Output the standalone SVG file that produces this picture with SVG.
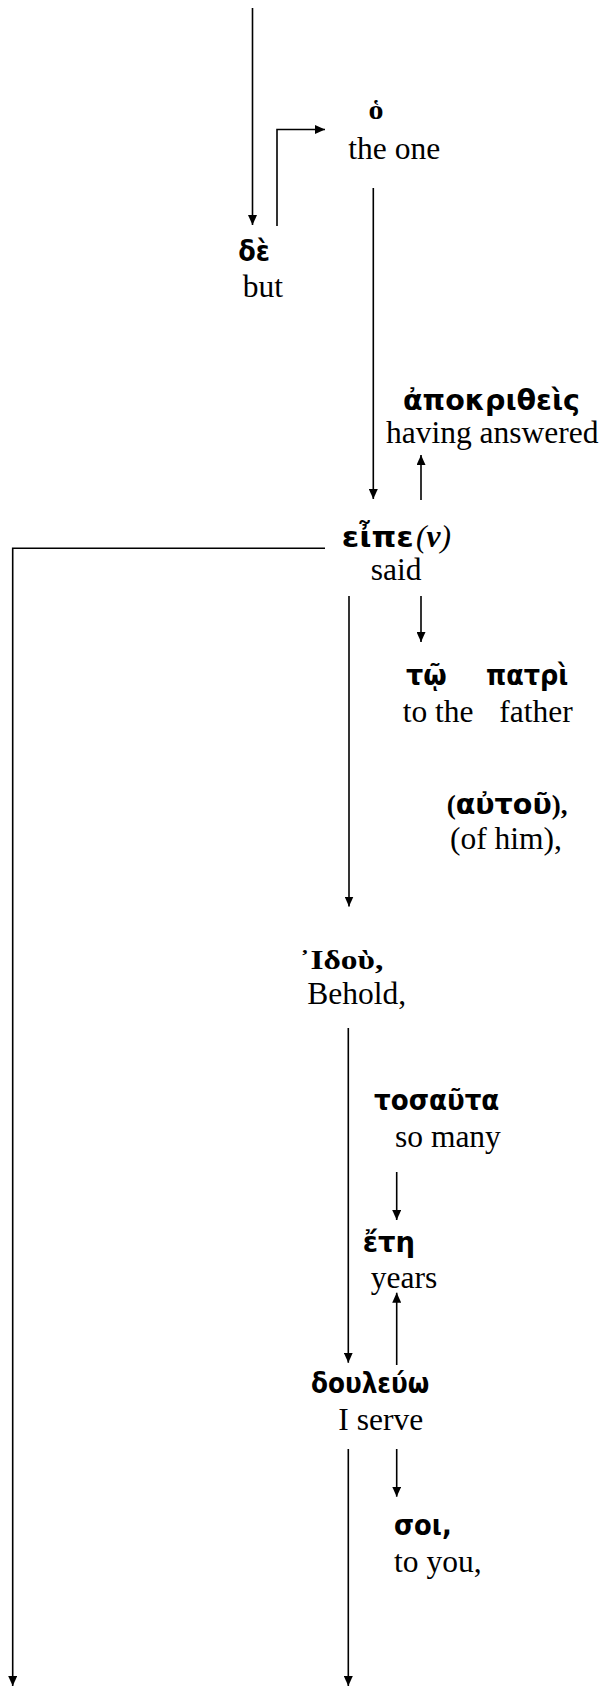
<svg xmlns="http://www.w3.org/2000/svg" width="615" height="1686" viewBox="0 0 615 1686">
<style>
.gk{font-family:"DejaVu Sans","Noto Sans",sans-serif;font-stretch:condensed;font-weight:bold;font-size:28.5px;fill:#000}
.gs{font-family:"Liberation Serif","DejaVu Serif",serif;font-weight:bold;font-size:28px;fill:#000}
.en{font-family:"Liberation Serif","Times New Roman",serif;font-size:31.5px;fill:#000}
.pn{font-family:"Liberation Serif","Times New Roman",serif;font-weight:bold}
.c{fill:none;stroke:#000;stroke-width:1.6}
.a{marker-end:url(#ah)}
</style>
<defs>
<marker id="ah" viewBox="0 0 10 9" refX="10" refY="4.5" markerWidth="10" markerHeight="9" markerUnits="userSpaceOnUse" orient="auto">
<path d="M0,0 L10,4.5 L0,9 z" fill="#000"/>
</marker>
</defs>
<rect width="615" height="1686" fill="#fff"/>
<g id="connectors">
<line class="c a" x1="252.5" y1="8" x2="252.5" y2="225"/>
<polyline class="c a" points="277,226 277,129.5 325,129.5"/>
<line class="c a" x1="373.3" y1="188" x2="373.3" y2="499"/>
<line class="c a" x1="421" y1="500" x2="421" y2="455"/>
<polyline class="c a" points="325,548.3 12.7,548.3 12.7,1686"/>
<line class="c a" x1="349" y1="596" x2="349" y2="906.5"/>
<line class="c a" x1="421" y1="596" x2="421" y2="642"/>
<line class="c a" x1="348.3" y1="1028" x2="348.3" y2="1362.7"/>
<line class="c a" x1="396.7" y1="1172" x2="396.7" y2="1220"/>
<line class="c a" x1="396.7" y1="1365" x2="396.7" y2="1292.7"/>
<line class="c a" x1="348.3" y1="1449" x2="348.3" y2="1686"/>
<line class="c a" x1="396.7" y1="1449" x2="396.7" y2="1496.7"/>
</g>
<g id="node-ho">
<text class="gs" x="368.5" y="119" font-size="31" textLength="15" lengthAdjust="spacingAndGlyphs">ὁ</text>
<text class="en" x="348.3" y="159">the one</text>
</g>
<g id="node-de">
<text class="gk" x="238.3" y="261" textLength="31.7" lengthAdjust="spacingAndGlyphs">δὲ</text>
<text class="en" x="242.7" y="296.5">but</text>
</g>
<g id="node-apokritheis">
<text class="gk" x="403" y="410" textLength="177" lengthAdjust="spacingAndGlyphs">ἀποκριθεὶς</text>
<text class="en" x="386" y="443">having answered</text>
</g>
<g id="node-eipen">
<text x="341.7" y="546.5"><tspan class="gk" textLength="72" lengthAdjust="spacingAndGlyphs">εἶπε</tspan><tspan class="en" x="416" font-style="italic" font-size="29">(<tspan font-weight="bold">ν</tspan>)</tspan></text>
<text class="en" x="370.7" y="580">said</text>
</g>
<g id="node-to-patri">
<text class="gk" x="406" y="685" textLength="40.7" lengthAdjust="spacingAndGlyphs">τῷ</text>
<text class="gk" x="486" y="685" textLength="82.3" lengthAdjust="spacingAndGlyphs">πατρὶ</text>
<text class="en" x="402.7" y="721.5">to the</text>
<text class="en" x="499.3" y="721.5">father</text>
</g>
<g id="node-autou">
<text x="446.7" y="814" font-size="27"><tspan class="pn">(</tspan><tspan class="gk" textLength="96" lengthAdjust="spacingAndGlyphs">αὐτοῦ</tspan><tspan class="pn">),</tspan></text>
<text class="en" x="450" y="849">(of him),</text>
</g>
<g id="node-idou">
<text class="gs" x="299.3" y="969" textLength="84" lengthAdjust="spacingAndGlyphs">᾿Ιδοὺ,</text>
<text class="en" x="307.3" y="1004">Behold,</text>
</g>
<g id="node-tosauta">
<text class="gk" x="374" y="1110" textLength="125.3" lengthAdjust="spacingAndGlyphs">τοσαῦτα</text>
<text class="en" x="395" y="1146.5">so many</text>
</g>
<g id="node-ete">
<text class="gk" x="362.7" y="1251.5" textLength="52.3" lengthAdjust="spacingAndGlyphs">ἔτη</text>
<text class="en" x="370.7" y="1288">years</text>
</g>
<g id="node-douleuo">
<text class="gk" x="311" y="1393" textLength="118.3" lengthAdjust="spacingAndGlyphs">δουλεύω</text>
<text class="en" x="338.3" y="1430">I serve</text>
</g>
<g id="node-soi">
<text class="gk" x="394" y="1535" textLength="57.7" lengthAdjust="spacingAndGlyphs">σοι,</text>
<text class="en" x="394" y="1571.5">to you,</text>
</g>
</svg>
